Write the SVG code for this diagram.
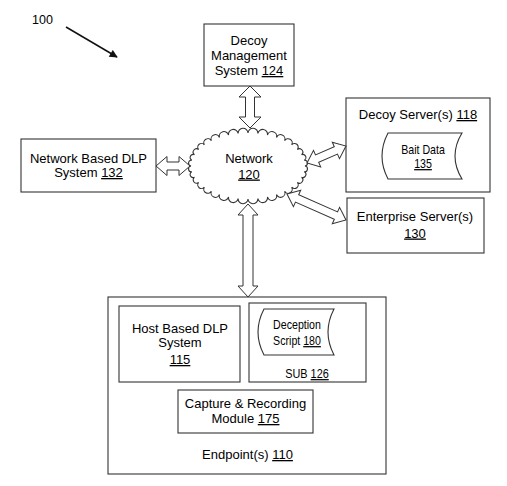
<svg xmlns="http://www.w3.org/2000/svg" width="507" height="486" viewBox="0 0 507 486">
<defs>
<style>
.box{fill:#fff;stroke:#333;stroke-width:1.1}
.t{font-family:"Liberation Sans",Arial,sans-serif;font-size:13px;fill:#000;text-anchor:middle}
.s{font-size:12.5px}
.u{text-decoration:underline}
.arr{fill:#fff;stroke:#333;stroke-width:1}
</style>
<marker id="ah" viewBox="0 0 10 10" refX="9" refY="5" markerWidth="10" markerHeight="8" markerUnits="userSpaceOnUse" orient="auto">
<path d="M0,0 L10,5 L0,10 Z" fill="#111"/>
</marker>
</defs>
<rect width="507" height="486" fill="#fff"/>

<g id="label100">
<text class="t" x="32" y="24" style="text-anchor:start;font-size:12.5px">100</text>
<line x1="66" y1="27" x2="117" y2="57" stroke="#111" stroke-width="1.5" marker-end="url(#ah)"/>
</g>

<g id="decoy-management">
<rect class="box" x="204" y="24" width="90" height="62"/>
<text class="t" x="249" y="44.5">Decoy</text>
<text class="t" x="249" y="59.5">Management</text>
<text class="t" x="249" y="75">System <tspan class="u">124</tspan></text>
</g>

<g id="network-dlp">
<rect class="box" x="21" y="139" width="135" height="53"/>
<text class="t" x="88.5" y="162.5">Network Based DLP</text>
<text class="t" x="88.5" y="177">System <tspan class="u">132</tspan></text>
</g>

<g id="network">
<path class="box" d="M305,166 A1,1 0 0 1 304.13,171.73 A1,1 0 0 1 301.56,177.29 A1,1 0 0 1 297.36,182.5 A1,1 0 0 1 291.66,187.21 A1,1 0 0 1 284.64,191.28 A1,1 0 0 1 276.5,194.58 A1,1 0 0 1 267.49,197.01 A1,1 0 0 1 257.9,198.5 A1,1 0 0 1 248,199 A1,1 0 0 1 238.1,198.5 A1,1 0 0 1 228.51,197.01 A1,1 0 0 1 219.5,194.58 A1,1 0 0 1 211.36,191.28 A1,1 0 0 1 204.34,187.21 A1,1 0 0 1 198.64,182.5 A1,1 0 0 1 194.44,177.29 A1,1 0 0 1 191.87,171.73 A1,1 0 0 1 191,166 A1,1 0 0 1 191.87,160.27 A1,1 0 0 1 194.44,154.71 A1,1 0 0 1 198.64,149.5 A1,1 0 0 1 204.34,144.79 A1,1 0 0 1 211.36,140.72 A1,1 0 0 1 219.5,137.42 A1,1 0 0 1 228.51,134.99 A1,1 0 0 1 238.1,133.5 A1,1 0 0 1 248,133 A1,1 0 0 1 257.9,133.5 A1,1 0 0 1 267.49,134.99 A1,1 0 0 1 276.5,137.42 A1,1 0 0 1 284.64,140.72 A1,1 0 0 1 291.66,144.79 A1,1 0 0 1 297.36,149.5 A1,1 0 0 1 301.56,154.71 A1,1 0 0 1 304.13,160.27 A1,1 0 0 1 305,166 Z"/>
<text class="t" x="249" y="162.5">Network</text>
<text class="t" x="249" y="178.5"><tspan class="u">120</tspan></text>
</g>

<g id="decoy-server">
<rect class="box" x="346" y="98" width="144" height="94"/>
<text class="t" x="418" y="119">Decoy Server(s) <tspan class="u">118</tspan></text>
<path class="box" d="M388,133 L462,133 Q448,156 462,179 L388,179 Q376,156 388,133 Z"/>
<text class="t s" transform="translate(423,154) scale(0.85,1)">Bait Data</text>
<text class="t s" transform="translate(423,168) scale(0.85,1)"><tspan class="u">135</tspan></text>
</g>

<g id="enterprise-server">
<rect class="box" x="347" y="198" width="137" height="55"/>
<text class="t" x="415" y="220.5">Enterprise Server(s)</text>
<text class="t" x="415" y="237.5"><tspan class="u">130</tspan></text>
</g>

<g id="endpoint">
<rect class="box" x="108" y="297" width="278" height="177"/>
<text class="t" x="247.5" y="459">Endpoint(s)  <tspan class="u">110</tspan></text>
</g>

<g id="host-dlp">
<rect class="box" x="119" y="306" width="121" height="76"/>
<text class="t" x="180" y="332.5">Host Based DLP</text>
<text class="t" x="180" y="347">System</text>
<text class="t" x="180" y="364"><tspan class="u">115</tspan></text>
</g>

<g id="sub">
<rect class="box" x="249" y="303" width="117" height="79"/>
<path class="box" d="M264,309 L334,309 Q322,332 334,355 L264,355 Q252,332 264,309 Z"/>
<text class="t s" transform="translate(297,329) scale(0.85,1)">Deception</text>
<text class="t s" transform="translate(297,345) scale(0.85,1)">Script <tspan class="u">180</tspan></text>
<text class="t s" transform="translate(307,378) scale(0.87,1)">SUB <tspan class="u">126</tspan></text>
</g>

<g id="capture">
<rect class="box" x="178" y="390" width="135" height="43"/>
<text class="t" x="245.5" y="407.5">Capture &amp; Recording</text>
<text class="t" x="245.5" y="423">Module <tspan class="u">175</tspan></text>
</g>

<g id="connectors">
<polygon class="arr" points="250,86 261,97 254.5,97 254.5,117 261,117 250,128 239,117 245.5,117 245.5,97 239,97"/>
<polygon class="arr" points="248,204 258,215 253,215 253,286 258,286 248,297 238,286 243,286 243,215 238,215"/>
<polygon class="arr" points="156,166 167,156.5 167,162 179,162 179,156.5 190,166 179,175.5 179,170 167,170 167,175.5"/>
<polygon class="arr" transform="translate(307,163) rotate(-23.5)" points="0,0 11,-9 11,-4 31.5,-4 31.5,-9 42.5,0 31.5,9 31.5,4 11,4 11,9"/>
<polygon class="arr" transform="translate(287,194) rotate(23.8)" points="0,0 11,-9 11,-4 53.5,-4 53.5,-9 64.5,0 53.5,9 53.5,4 11,4 11,9"/>
</g>
</svg>
